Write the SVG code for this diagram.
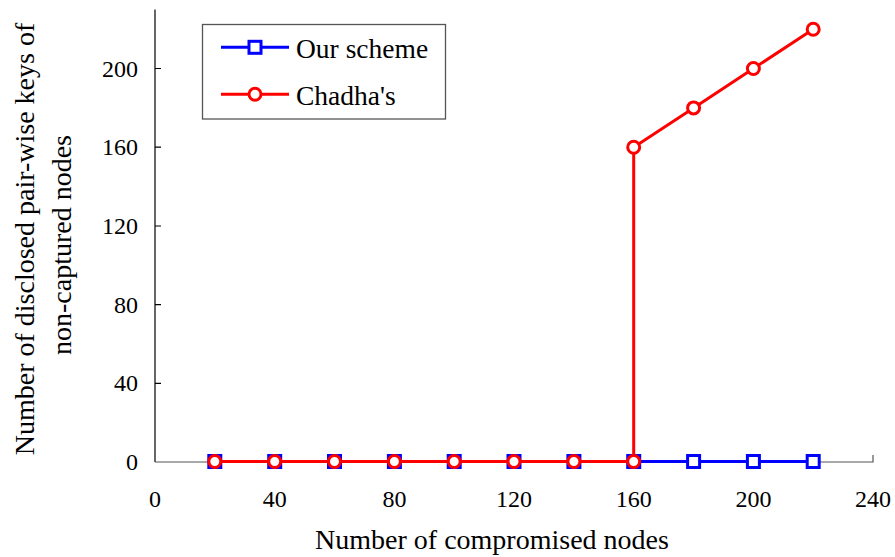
<svg xmlns="http://www.w3.org/2000/svg" width="895" height="557" viewBox="0 0 895 557">
<style>
text{font-family:"Liberation Serif","Times New Roman",serif;fill:#000}
.tick{font-size:24px}
.title{font-size:28px}
.leg{font-size:27.5px}
.axis{stroke:#000;stroke-width:1.2;fill:none}
.xaxis{stroke:#555;stroke-width:1.2;fill:none}
.blue{stroke:#0000ff;stroke-width:3;fill:none}
.red{stroke:#ff0000;stroke-width:3;fill:none}
.sq{stroke:#0000ff;stroke-width:3;fill:#fff}
.ci{stroke:#ff0000;stroke-width:3;fill:#fff}
</style>
<defs>
<rect id="sq" x="-6" y="-6" width="12" height="12" class="sq"/>
<circle id="ci" r="6" class="ci"/>
</defs>
<rect width="895" height="557" fill="#fff"/>
<g id="axes">
<path class="axis" d="M155,9.5V462"/>
<path class="xaxis" d="M155,462H873V455"/>
<path class="axis" d="M155,68.5h6M155,147.2h6M155,226h6M155,304.7h6M155,383.3h6"/>
<path class="xaxis" d="M274.7,462v-6M394.4,462v-6M514,462v-6M633.7,462v-6M753.4,462v-6"/>
</g>
<g id="ticklabels" class="tick">
<g text-anchor="end">
<text x="138" y="470">0</text>
<text x="138" y="391.3">40</text>
<text x="138" y="312.7">80</text>
<text x="138" y="234">120</text>
<text x="138" y="155.2">160</text>
<text x="138" y="76.5">200</text>
</g>
<g text-anchor="middle">
<text x="155" y="507">0</text>
<text x="274.7" y="507">40</text>
<text x="394.4" y="507">80</text>
<text x="514" y="507">120</text>
<text x="633.7" y="507">160</text>
<text x="753.4" y="507">200</text>
<text x="873" y="507">240</text>
</g>
</g>
<g id="titles" class="title" text-anchor="middle">
<text x="492" y="549">Number of compromised nodes</text>
<text transform="translate(34,239) rotate(-90)">Number of disclosed pair-wise keys of</text>
<text transform="translate(71,245) rotate(-90)">non-captured nodes</text>
</g>
<g id="series-our-scheme">
<polyline class="blue" points="214.8,461.5 274.7,461.5 334.5,461.5 394.4,461.5 454.2,461.5 514,461.5 573.9,461.5 633.7,461.5 693.6,461.5 753.4,461.5 813.2,461.5"/>
<use href="#sq" x="214.8" y="461.5"/>
<use href="#sq" x="274.7" y="461.5"/>
<use href="#sq" x="334.5" y="461.5"/>
<use href="#sq" x="394.4" y="461.5"/>
<use href="#sq" x="454.2" y="461.5"/>
<use href="#sq" x="514" y="461.5"/>
<use href="#sq" x="573.9" y="461.5"/>
<use href="#sq" x="633.7" y="461.5"/>
<use href="#sq" x="693.6" y="461.5"/>
<use href="#sq" x="753.4" y="461.5"/>
<use href="#sq" x="813.2" y="461.5"/>
</g>
<g id="series-chadha">
<polyline class="red" points="214.8,461.5 274.7,461.5 334.5,461.5 394.4,461.5 454.2,461.5 514,461.5 573.9,461.5 633.7,461.5 633.7,147.2 693.6,107.9 753.4,68.5 813.2,29.2"/>
<use href="#ci" x="214.8" y="461.5"/>
<use href="#ci" x="274.7" y="461.5"/>
<use href="#ci" x="334.5" y="461.5"/>
<use href="#ci" x="394.4" y="461.5"/>
<use href="#ci" x="454.2" y="461.5"/>
<use href="#ci" x="514" y="461.5"/>
<use href="#ci" x="573.9" y="461.5"/>
<use href="#ci" x="633.7" y="461.5"/>
<use href="#ci" x="633.7" y="147.2"/>
<use href="#ci" x="693.6" y="107.9"/>
<use href="#ci" x="753.4" y="68.5"/>
<use href="#ci" x="813.2" y="29.2"/>
</g>
<g id="legend">
<rect x="202.5" y="24.5" width="243" height="94.5" fill="#fff" stroke="#555" stroke-width="1.3"/>
<path class="blue" d="M221,47.3H289"/>
<use href="#sq" x="255" y="47.3"/>
<text class="leg" x="296" y="57.5">Our scheme</text>
<path class="red" d="M221,94.3H289"/>
<use href="#ci" x="255" y="94.3"/>
<text class="leg" x="296" y="104.5">Chadha's</text>
</g>
</svg>
